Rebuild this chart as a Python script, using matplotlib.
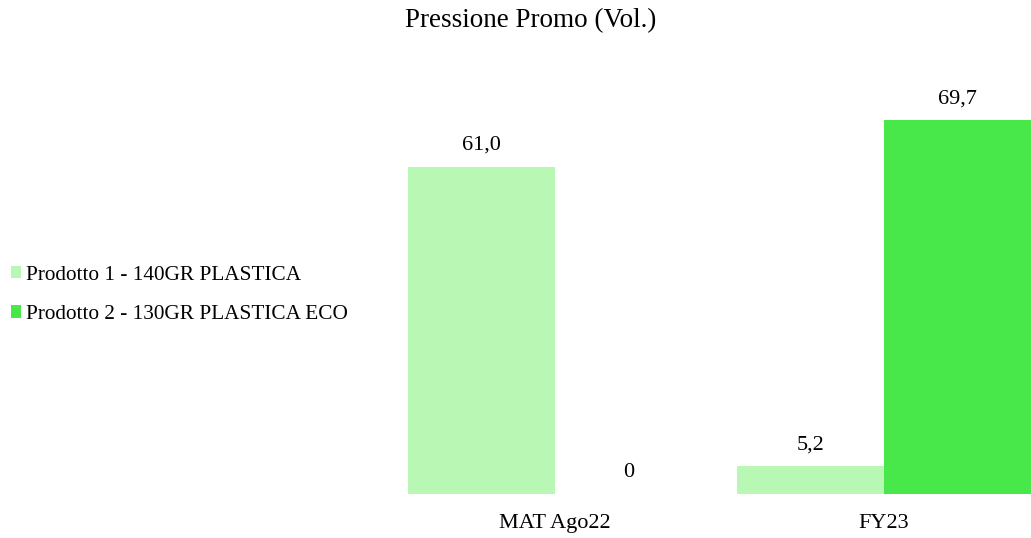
import matplotlib
matplotlib.use("Agg")
import matplotlib.pyplot as plt
from matplotlib.patches import Patch
import numpy as np

categories = ["MAT Ago22", "FY23"]
series_names = ["Prodotto 1 - 140GR PLASTICA", "Prodotto 2 - 130GR PLASTICA ECO"]
prodotto1 = [61.0, 5.2]
prodotto2 = [0.0, 69.7]
colors = ["#b8f7b4", "#48e84a"]

plt.rcParams["font.family"] = ["Liberation Serif", "DejaVu Serif"]

W, H = 1031, 538
fig = plt.figure(figsize=(W / 100, H / 100), dpi=100)
# plotting area: from x=408 to the right edge, baseline at y=494
ax = fig.add_axes([408 / W, (H - 494) / H, (W - 408) / W, 374 / H])

x = np.arange(len(categories))
bw = 0.447
ax.set_xlim(-bw, 1 + bw)
ax.set_ylim(0, 69.7)

for i, vals in enumerate([prodotto1, prodotto2]):
    pos = x + (i - 0.5) * bw
    ax.bar(pos, vals, width=bw, color=colors[i], linewidth=0)
    for p, v in zip(pos, vals):
        txt = "0" if v == 0 else f"{v:.1f}".replace(".", ",")
        ax.annotate(txt, (p, v), xytext=(0, 8.6), textcoords="offset points",
                    ha="center", va="bottom", fontsize=16, annotation_clip=False)

ax.set_xticks(x)
ax.set_xticklabels(categories, fontsize=16)
ax.tick_params(axis="x", length=0, pad=14.4)
ax.set_yticks([])
for s in ax.spines.values():
    s.set_visible(False)

fig.text(531 / W, 1 - 21 / H, "Pressione Promo (Vol.)", ha="center", va="center", fontsize=19.5)

handles = [Patch(facecolor=c, edgecolor="none") for c in colors]
fig.legend(handles, series_names, loc="center left", bbox_to_anchor=(0.0, 1 - 295 / H),
           frameon=False, fontsize=15.3, handlelength=0.5, handleheight=0.5,
           handletextpad=0.2, labelspacing=0.95, borderaxespad=0.0, borderpad=0.5)

fig.savefig("out.png", dpi=100)
